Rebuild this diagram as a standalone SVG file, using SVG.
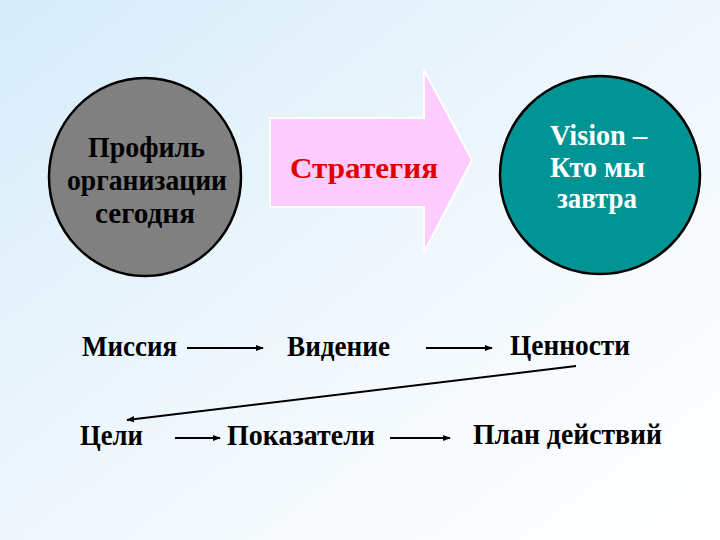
<svg xmlns="http://www.w3.org/2000/svg" width="720" height="540" viewBox="0 0 720 540">
<defs>
<linearGradient id="bg" x1="0" y1="0" x2="1" y2="1">
<stop offset="0" stop-color="#d6ecfa"/>
<stop offset="0.55" stop-color="#f1f8fd"/>
<stop offset="1" stop-color="#ffffff"/>
</linearGradient>
<marker id="ah" viewBox="0 0 10 10" refX="9" refY="5" markerWidth="4" markerHeight="4" orient="auto" markerUnits="strokeWidth">
<path d="M0,1 L10,5 L0,9 z" fill="#000"/>
</marker>
<style>
.c{stroke:#000;stroke-width:2;fill:none}
</style>
</defs>
<rect width="720" height="540" fill="url(#bg)"/>
<g id="profile">
<ellipse cx="145" cy="177" rx="96" ry="99" fill="#808080" stroke="#000" stroke-width="2.5"/>
<text font-family="Liberation Serif" font-weight="bold" font-size="29" text-anchor="middle" fill="#000" x="146.5" y="157" textLength="117" lengthAdjust="spacingAndGlyphs">Профиль</text>
<text font-family="Liberation Serif" font-weight="bold" font-size="29" text-anchor="middle" fill="#000" x="147" y="190" textLength="160" lengthAdjust="spacingAndGlyphs">организации</text>
<text font-family="Liberation Serif" font-weight="bold" font-size="29" text-anchor="middle" fill="#000" x="145" y="223" textLength="100" lengthAdjust="spacingAndGlyphs">сегодня</text>
</g>
<g id="strategy">
<path d="M270,118 H424 V70 L472,160 L424,252 V207 H270 Z" fill="#ffccff" stroke="#ffffff" stroke-width="2"/>
<text font-family="Liberation Serif" font-weight="bold" font-size="29" text-anchor="middle" fill="#e00000" x="364" y="178" textLength="148" lengthAdjust="spacingAndGlyphs">Стратегия</text>
</g>
<g id="vision">
<ellipse cx="600" cy="175" rx="100" ry="99" fill="#009494" stroke="#000" stroke-width="2.5"/>
<text font-family="Liberation Serif" font-weight="bold" font-size="29" text-anchor="middle" fill="#ffffff" x="598.5" y="145" textLength="97" lengthAdjust="spacingAndGlyphs">Vision –</text>
<text font-family="Liberation Serif" font-weight="bold" font-size="29" text-anchor="middle" fill="#ffffff" x="597.5" y="177" textLength="95" lengthAdjust="spacingAndGlyphs">Кто мы</text>
<text font-family="Liberation Serif" font-weight="bold" font-size="29" text-anchor="middle" fill="#ffffff" x="597" y="208" textLength="80" lengthAdjust="spacingAndGlyphs">завтра</text>
</g>
<g id="mission"><text font-family="Liberation Serif" font-weight="bold" font-size="29" text-anchor="middle" fill="#000" x="129.5" y="356" textLength="95" lengthAdjust="spacingAndGlyphs">Миссия</text></g>
<g id="videnie"><text font-family="Liberation Serif" font-weight="bold" font-size="29" text-anchor="middle" fill="#000" x="338.5" y="356" textLength="103" lengthAdjust="spacingAndGlyphs">Видение</text></g>
<g id="values"><text font-family="Liberation Serif" font-weight="bold" font-size="29" text-anchor="middle" fill="#000" x="570" y="355" textLength="120" lengthAdjust="spacingAndGlyphs">Ценности</text></g>
<g id="goals"><text font-family="Liberation Serif" font-weight="bold" font-size="29" text-anchor="middle" fill="#000" x="111.5" y="445" textLength="63" lengthAdjust="spacingAndGlyphs">Цели</text></g>
<g id="indicators"><text font-family="Liberation Serif" font-weight="bold" font-size="29" text-anchor="middle" fill="#000" x="301" y="445" textLength="148" lengthAdjust="spacingAndGlyphs">Показатели</text></g>
<g id="plan"><text font-family="Liberation Serif" font-weight="bold" font-size="29" text-anchor="middle" fill="#000" x="567.5" y="444" textLength="189" lengthAdjust="spacingAndGlyphs">План действий</text></g>
<g id="connectors">
<line class="c" x1="187" y1="348" x2="263" y2="348" marker-end="url(#ah)"/>
<line class="c" x1="426" y1="348" x2="492" y2="348" marker-end="url(#ah)"/>
<line class="c" x1="576" y1="366" x2="127" y2="420" marker-end="url(#ah)" stroke-width="3"/>
<line class="c" x1="175" y1="438" x2="220" y2="438" marker-end="url(#ah)"/>
<line class="c" x1="390" y1="438" x2="450" y2="438" marker-end="url(#ah)"/>
</g>
</svg>
